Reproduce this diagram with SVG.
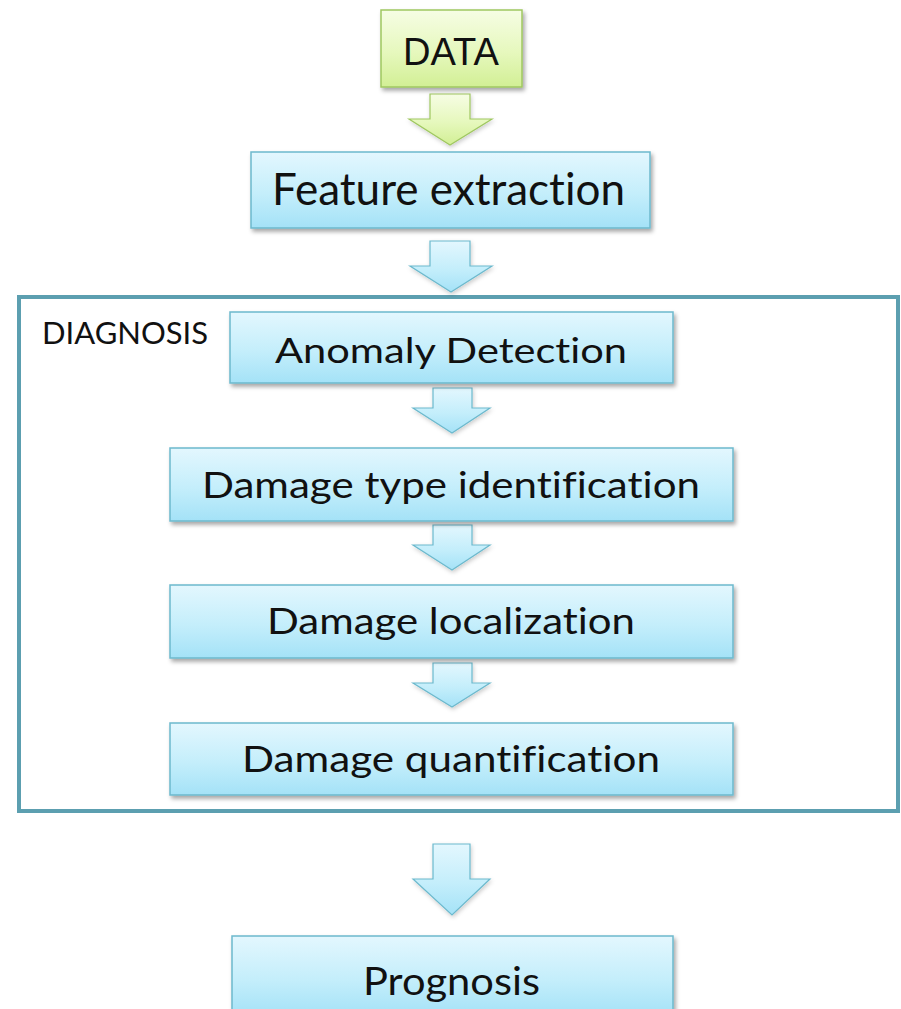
<svg xmlns="http://www.w3.org/2000/svg" width="901" height="1009" viewBox="0 0 901 1009">
  <defs>
    <linearGradient id="gBlue" x1="0" y1="0" x2="0" y2="1">
      <stop offset="0" stop-color="#e3f7fe"/>
      <stop offset="0.55" stop-color="#c4eefb"/>
      <stop offset="1" stop-color="#a4e2f7"/>
    </linearGradient>
    <linearGradient id="gGreen" x1="0" y1="0" x2="0" y2="1">
      <stop offset="0" stop-color="#f6fde4"/>
      <stop offset="0.55" stop-color="#e6f8bd"/>
      <stop offset="1" stop-color="#d2ef95"/>
    </linearGradient>
    <filter id="shadow" x="-10%" y="-20%" width="125%" height="150%">
      <feDropShadow dx="2" dy="3" stdDeviation="2" flood-color="#000" flood-opacity="0.35"/>
    </filter>
    <filter id="softShadow" x="-20%" y="-20%" width="140%" height="150%">
      <feDropShadow dx="1" dy="2" stdDeviation="2" flood-color="#000" flood-opacity="0.2"/>
    </filter>
  </defs>
  <style>
    .box { fill: url(#gBlue); stroke: #6cb9cd; stroke-width: 1.5; filter: url(#shadow); }
    .gbox { fill: url(#gGreen); stroke: #9fc760; stroke-width: 1.5; filter: url(#shadow); }
    .arrow { fill: url(#gBlue); stroke: #6cb9cd; stroke-width: 1.2; filter: url(#softShadow); }
    .garrow { fill: url(#gGreen); stroke: #9fc760; stroke-width: 1.2; filter: url(#softShadow); }
    .lbl { font-family: Lato, "Liberation Sans", sans-serif; fill: #111; text-anchor: start; font-variant-ligatures: none; font-feature-settings: "liga" 0, "dlig" 0; }
    .frame { fill: #fff; stroke: #5c9fb0; stroke-width: 4; }
  </style>

  <rect width="901" height="1009" fill="#fff"/>

  <!-- grouping frame for the diagnosis stage -->
  <g id="diagnosis-frame">
    <rect class="frame" x="19" y="297" width="879" height="514"/>
    <text class="lbl" x="42" y="344" font-size="31" textLength="166" lengthAdjust="spacingAndGlyphs">DIAGNOSIS</text>
  </g>

  <!-- block arrows between steps -->
  <g id="connectors">
    <path class="garrow" d="M430 94 H470 V119 H492 L450 145 L409 119 H430 Z"/>
    <path class="arrow" d="M430 241 H470 V266 H492 L451 292 L410 266 H430 Z"/>
    <path class="arrow" d="M433 388 H472 V408 H490 L452 433 L413 408 H433 Z"/>
    <path class="arrow" d="M433 525 H472 V545 H490 L452 570 L413 545 H433 Z"/>
    <path class="arrow" d="M433 663 H472 V683 H490 L452 707 L413 683 H433 Z"/>
    <path class="arrow" d="M433 844 H470 V879 H490 L452 915 L413 879 H433 Z"/>
  </g>

  <g id="data">
    <rect class="gbox" x="381" y="10" width="141" height="77"/>
    <text x="403" y="65" font-family="'Liberation Sans', Arial, sans-serif" font-size="38" fill="#111" textLength="96" lengthAdjust="spacingAndGlyphs">DATA</text>
  </g>

  <g id="feature-extraction">
    <rect class="box" x="251" y="152" width="399" height="76"/>
    <text class="lbl" x="272" y="205" font-size="45" textLength="353" lengthAdjust="spacingAndGlyphs">Feature extraction</text>
  </g>

  <g id="anomaly-detection">
    <rect class="box" x="230" y="312" width="443" height="71"/>
    <text class="lbl" x="275" y="363" font-size="35" textLength="352" lengthAdjust="spacingAndGlyphs">Anomaly Detection</text>
  </g>

  <g id="damage-type">
    <rect class="box" x="170" y="448" width="563" height="73"/>
    <text class="lbl" x="202" y="498" font-size="36" textLength="498" lengthAdjust="spacingAndGlyphs">Damage type identification</text>
  </g>

  <g id="damage-localization">
    <rect class="box" x="170" y="585" width="563" height="73"/>
    <text class="lbl" x="267" y="634" font-size="36" textLength="368" lengthAdjust="spacingAndGlyphs">Damage localization</text>
  </g>

  <g id="damage-quantification">
    <rect class="box" x="170" y="723" width="563" height="72"/>
    <text class="lbl" x="242" y="772" font-size="36" textLength="418" lengthAdjust="spacingAndGlyphs">Damage quantification</text>
  </g>

  <g id="prognosis">
    <rect class="box" x="232" y="936" width="441" height="80"/>
    <text class="lbl" x="363" y="995" font-size="38" textLength="177" lengthAdjust="spacingAndGlyphs">Prognosis</text>
  </g>
</svg>
